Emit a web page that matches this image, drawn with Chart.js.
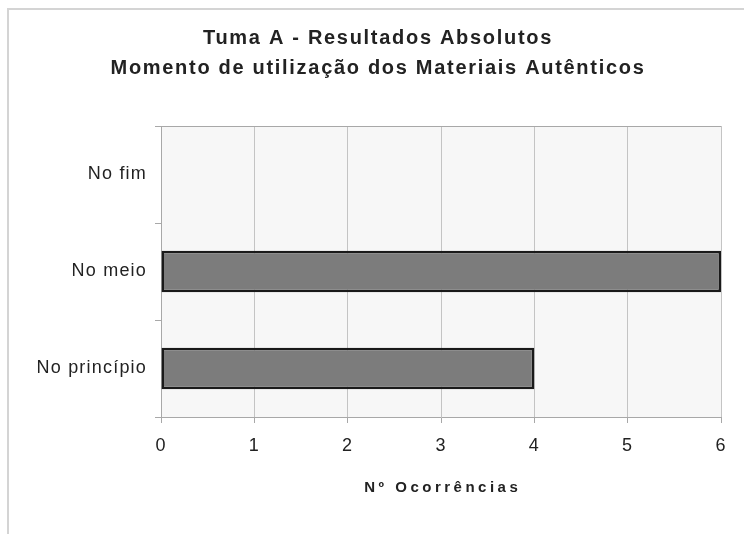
<!DOCTYPE html>
<html>
<head>
<meta charset="utf-8">
<script src="https://cdn.jsdelivr.net/npm/chart.js@4/dist/chart.umd.min.js"></script>
<style>
    body { margin: 0; background: #ffffff; }
</style>
</head>
<body>
<canvas class="grafica" width="744" height="534"></canvas>
<script>
const categorias = ["No fim", "No meio", "No princípio"];
const ocorrencias = [0, 6, 4];
const marcasX = [0, 1, 2, 3, 4, 5, 6];
const titulo = ["Tuma A - Resultados Absolutos", "Momento de utilização dos Materiais Autênticos"];
const tituloEixoX = "Nº Ocorrências";

const fonte = "'Liberation Sans', Arial, sans-serif";

// fundo, moldura, titulo e espacamento das letras como no original
const espacamento = {
    id: "espacamento",
    beforeLayout(chart){
        chart.ctx.letterSpacing = "1.2px";
    },
    beforeDraw(chart){
        const ctx = chart.ctx;
        const area = chart.chartArea;
        ctx.letterSpacing = "1.2px";
        ctx.save();
        ctx.fillStyle = "#f7f7f7";
        ctx.fillRect(area.left, area.top, area.right - area.left, area.bottom - area.top);
        ctx.strokeStyle = "#d4d4d4";
        ctx.lineWidth = 2;
        ctx.beginPath();
        ctx.moveTo(8, 534);
        ctx.lineTo(8, 9);
        ctx.lineTo(744, 9);
        ctx.stroke();
        ctx.restore();
    },
    afterDraw(chart){
        const ctx = chart.ctx;
        const area = chart.chartArea;
        ctx.save();
        ctx.strokeStyle = "#a8a8a8";
        ctx.lineWidth = 1;
        ctx.beginPath();
        ctx.moveTo(area.left - 6, area.top + 0.5);
        ctx.lineTo(area.right, area.top + 0.5);
        ctx.stroke();

        ctx.fillStyle = "#222222";
        ctx.textAlign = "center";
        ctx.textBaseline = "middle";

        ctx.letterSpacing = "1.7px";
        ctx.font = "bold 20px " + fonte;
        titulo.forEach(function(linha, i){
            ctx.fillText(linha, 378, 38.5 + i * 30);
        });

        ctx.letterSpacing = "3.5px";
        ctx.font = "bold 15px " + fonte;
        ctx.fillText(tituloEixoX, (area.left + area.right) / 2 + 1.75, 488);
        ctx.restore();
    }
};

const data = {
    labels: categorias,
    datasets: [{
        label: tituloEixoX,
        data: ocorrencias,
        backgroundColor: "#7c7c7c",
        borderColor: "#1a1a1a",
        borderWidth: 2.5,
        borderSkipped: false,
        barPercentage: 0.43,
        categoryPercentage: 1
    }]
};

const config = {
    type: "bar",
    data: data,
    plugins: [espacamento],
    options: {
        indexAxis: "y",
        responsive: false,
        animation: false,
        layout: {
            padding: { top: 126, right: 23, bottom: 0, left: 0 }
        },
        plugins: {
            legend: { display: false },
            tooltip: { enabled: false },
            title: { display: false }
        },
        scales: {
            x: {
                min: marcasX[0],
                max: marcasX[marcasX.length - 1],
                afterFit: function(scale){ scale.height = 117; },
                ticks: {
                    stepSize: 1,
                    padding: 12,
                    color: "#222222",
                    font: { family: fonte, size: 18 }
                },
                grid: {
                    color: "#c4c4c4",
                    tickColor: "#a8a8a8",
                    tickLength: 6
                },
                border: { color: "#a8a8a8" }
            },
            y: {
                afterFit: function(scale){ scale.width = 161; },
                ticks: {
                    padding: 8,
                    color: "#222222",
                    font: { family: fonte, size: 18 }
                },
                grid: {
                    drawOnChartArea: false,
                    tickColor: "#a8a8a8",
                    tickLength: 6
                },
                border: { color: "#a8a8a8" }
            }
        }
    }
};

const ctx = document.querySelector(".grafica");
const grafica = new Chart(ctx, config);
</script>
</body>
</html>
